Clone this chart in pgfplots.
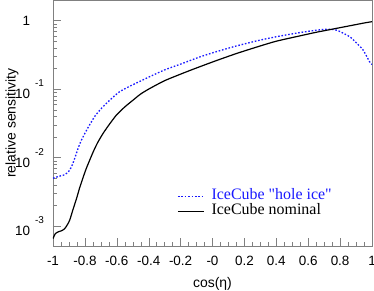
\documentclass[border=0pt]{standalone}
\usepackage{fontspec}
\setmainfont{Liberation Sans}
\newfontfamily\timesfont{Liberation Serif}
\usepackage{pgfplots}
\pgfplotsset{compat=1.18}
\definecolor{hole}{rgb}{0.1,0.1,1}
\newcommand\tp[1]{10\hspace{5pt}\raisebox{12bp}{\fontsize{10}{11}\selectfont #1}}
\begin{document}
\begin{tikzpicture}
\begin{axis}[
  scale only axis,
  width=319bp, height=246bp,
  ymode=log,
  xmin=-1, xmax=1,
  ymin=5.14e-4, ymax=2.0,
  axis line style={black!50},
  every tick/.style={black!50},
  major tick length=8bp, minor tick length=4bp,
  tick pos=left,
  xtick={-1,-0.8,-0.6,-0.4,-0.2,0,0.2,0.4,0.6,0.8,1},
  xticklabels={-1,-0.8,-0.6,-0.4,-0.2,-0,0.2,0.4,0.6,0.8,1},
  minor x tick num=3,
  ytick={1e-3,1e-2,1e-1,1},
  yticklabels={\tp{-3},\tp{-2},\tp{-1},1\phantom{\hspace{5pt}\fontsize{10}{11}\selectfont -1}},
  /pgf/number format/assume math mode=true,
  tick label style={font=\fontsize{13.5}{15}\selectfont},
  xticklabel style={yshift=-6.5bp},
  yticklabel style={xshift=-5.5bp},
  xlabel={cos(η)},
  ylabel={relative sensitivity},
  label style={font=\fontsize{14}{16}\selectfont},
  xlabel style={at={(axis description cs:0.5,-0.1545)}, anchor=center},
  ylabel style={at={(axis description cs:-0.1285,0.5)}, anchor=center},
  legend style={at={(axis description cs:0.389,0.232)}, anchor=north west,
    draw=none, fill=none, inner sep=0pt, row sep=0bp,
    font=\timesfont\fontsize{16}{16}\selectfont,
    nodes={inner sep=1bp, text height=9.5bp, text depth=3.5bp}},
  legend cell align=left,
  legend image code/.code={\draw[#1] (0bp,0bp) -- (26bp,0bp);},
]
\addplot[hole, line width=1.3bp, dash pattern=on 1.6bp off 1.8bp, smooth, tension=0.4] coordinates {
(-1.000,0.00501) (-0.96,0.00537) (-0.927,0.00562) (-0.91,0.00603) (-0.895,0.00661)
(-0.88,0.00776) (-0.864,0.00977) (-0.845,0.0132) (-0.825,0.0174) (-0.79,0.0251)
(-0.739,0.0398) (-0.70,0.0513) (-0.665,0.0622) (-0.62,0.0776) (-0.582,0.0920)
(-0.53,0.107) (-0.477,0.123) (-0.394,0.152) (-0.3,0.191) (-0.185,0.239)
(-0.08,0.295) (0.024,0.352) (0.15,0.427) (0.285,0.511) (0.4,0.582)
(0.546,0.668) (0.65,0.724) (0.72,0.750) (0.78,0.724) (0.86,0.583)
(0.90,0.479) (0.944,0.373) (0.985,0.251) (1.0,0.229)
};
\addlegendentry{\hspace{6bp}\textcolor{hole}{IceCube "hole ice"}}
\addplot[black, line width=1.2bp, smooth, tension=0.4] coordinates {
(-1.000,0.00066) (-0.985,0.00078) (-0.965,0.00083) (-0.945,0.00086) (-0.927,0.00092)
(-0.91,0.00105) (-0.895,0.00123) (-0.875,0.00174) (-0.853,0.00251) (-0.833,0.00363)
(-0.81,0.00525) (-0.79,0.00708) (-0.749,0.0120) (-0.72,0.0166) (-0.686,0.0226)
(-0.65,0.0299) (-0.603,0.0417) (-0.55,0.0550) (-0.498,0.0692) (-0.45,0.0851)
(-0.394,0.102) (-0.3,0.133) (-0.185,0.171) (-0.1,0.204) (0.024,0.261)
(0.15,0.331) (0.285,0.417) (0.4,0.501) (0.546,0.598) (0.65,0.676)
(0.75,0.750) (0.85,0.832) (0.95,0.923) (1.0,0.966)
};
\addlegendentry{\hspace{6bp}IceCube nominal}
\end{axis}
\pgfresetboundingbox
\useasboundingbox (-53bp,-45bp) rectangle (321bp,246bp);
\end{tikzpicture}
\end{document}
